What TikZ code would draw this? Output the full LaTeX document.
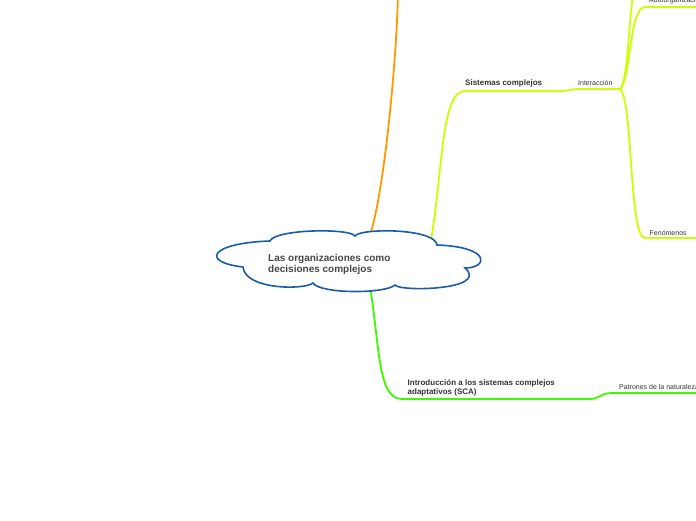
\documentclass[tikz,border=0pt]{standalone}
\usepackage{fontspec}
\setmainfont{Liberation Sans}
\definecolor{cloudblue}{RGB}{26,92,170}
\definecolor{orangeline}{RGB}{255,153,0}
\definecolor{limeline}{RGB}{204,255,0}
\definecolor{greenline}{RGB}{60,250,0}
\definecolor{txt}{RGB}{51,51,51}
\tikzset{
  branch/.style={line width=1.8pt, line cap=round},
  maintext/.style={font=\fontsize{8}{9.5}\selectfont\bfseries, text=txt, inner sep=0pt, anchor=base west, align=left},
  subtext/.style={font=\fontsize{7}{8.5}\selectfont, text=txt, inner sep=0pt, anchor=base west},
  rootext/.style={font=\fontsize{10}{10.5}\selectfont\bfseries, text=txt!90, inner sep=0pt, anchor=base west, align=left},
}
\begin{document}
\begin{tikzpicture}[x=1pt,y=-1pt]
\useasboundingbox (0,0) rectangle (696,520);
\clip (0,0) rectangle (696,520);
% coordinates
\coordinate (rootTop) at (369,238);
\coordinate (topEnd) at (398,-5);
\coordinate (rootSis) at (431,240);
\coordinate (sisA) at (465,91);
\coordinate (sisB) at (560,91);
\coordinate (inter) at (620,89);
\coordinate (upEnd) at (633,-5);
\coordinate (autoA) at (645,7);
\coordinate (autoEnd) at (700,7);
\coordinate (fenA) at (645,238);
\coordinate (fenEnd) at (700,238);
\coordinate (rootIntro) at (370,286);
\coordinate (introA) at (402,399);
\coordinate (introB) at (590,399);
\coordinate (patA) at (612,393);
\coordinate (patEnd) at (700,393);
% branches
\draw[branch, orangeline] (rootTop) .. controls (383,200) and (396,70) .. (topEnd);
\draw[branch, limeline] (rootSis) .. controls (443,170) and (441,91) .. (sisA) -- (sisB) .. controls (570,91) and (570,89) .. (580,89) -- (inter);
\draw[branch, limeline] (inter) .. controls (628,80) and (628,30) .. (upEnd);
\draw[branch, limeline] (inter) .. controls (631,80) and (629,7) .. (autoA) -- (autoEnd);
\draw[branch, limeline] (inter) .. controls (633,100) and (629,238) .. (fenA) -- (fenEnd);
\draw[branch, greenline] (rootIntro) .. controls (380,350) and (378,399) .. (introA) -- (introB) .. controls (600,399) and (600,393) .. (patA) -- (patEnd);
% cloud
\draw[line width=1.6pt, cloudblue, fill=white]
  (270,241) .. controls (275,229) and (350,228) .. (355,236)
  .. controls (360,228) and (435,228) .. (437,245)
  .. controls (492,247) and (488,268) .. (465,268)
  .. controls (490,290) and (400,292) .. (395,285)
  .. controls (385,294) and (320,294) .. (313,283)
  .. controls (305,290) and (245,290) .. (243,267)
  .. controls (200,262) and (210,243) .. cycle;
% texts
\node[rootext] (root) at (268,272.2) {Las organizaciones como\\decisiones complejos};
\node[maintext] (sis) at (465,85.3) {Sistemas complejos};
\node[subtext] (interT) at (578,85.3) {Interacción};
\node[subtext] (auto) at (649,2) {Autoorganización};
\node[subtext] (fen) at (649.5,235) {Fenómenos};
\node[maintext] (intro) at (407.5,394.5) {Introducción a los sistemas complejos\\adaptativos (SCA)};
\node[subtext] (pat) at (619,389) {Patrones de la naturaleza};
\end{tikzpicture}
\end{document}
